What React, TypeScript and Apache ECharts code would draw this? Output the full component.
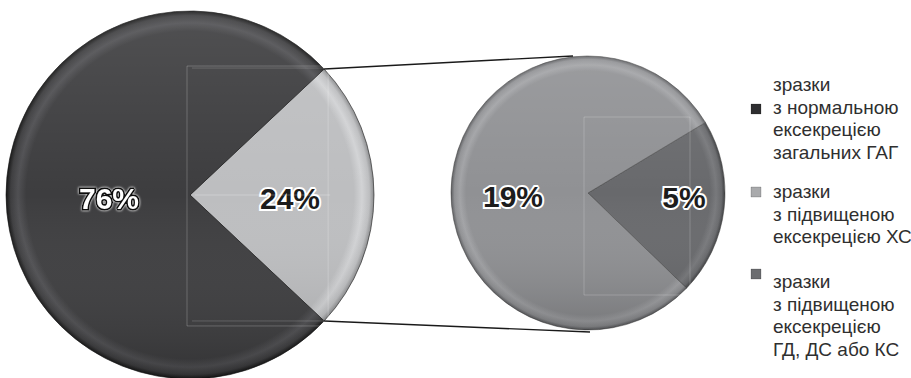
import { useEffect, useRef } from 'react';
import * as echarts from 'echarts';

// ---- data ----
const mainNames = ['зразки з нормальною ексекрецією загальних ГАГ', 'зразки з підвищеною ексекрецією'];
const mainValues = [76, 24];
const subNames = ['зразки з підвищеною ексекрецією ХС', 'зразки з підвищеною ексекрецією ГД, ДС або КС'];
const subValues = [19, 5];
const legendTexts = [
  'зразки\nз нормальною\nексекрецією\nзагальних ГАГ',
  'зразки\nз підвищеною\nексекрецією ХС',
  'зразки\nз підвищеною\nексекрецією\nГД, ДС або КС',
];

// ---- styles / layout ----
const BX = 190, BY = 195, BR = 184;
const SX = 588, SY = 193, SR = 137;
const SUB_START = 31;
const legendMarkerColors = ['#2e2e30', '#a9aaac', '#6c6d70'];
const legendMarkerY = [104, 187, 269];
const legendTextY = [73, 180, 270];

function rim(cx: number, cy: number, r: number, base: string, band: string, edge: string) {
  return new echarts.graphic.RadialGradient(cx, cy, r, [
    { offset: 0, color: base },
    { offset: 0.89, color: base },
    { offset: 0.935, color: band },
    { offset: 0.975, color: base },
    { offset: 1, color: edge },
  ], true);
}
function shade(cx: number, cy: number, r: number) {
  return new echarts.graphic.LinearGradient(cx, cy - r, cx, cy + r, [
    { offset: 0, color: 'rgba(255,255,255,0.10)' },
    { offset: 0.5, color: 'rgba(255,255,255,0)' },
    { offset: 1, color: 'rgba(0,0,0,0.18)' },
  ], true);
}

const darkLabel = {
  color: '#1c1c1c', textBorderColor: '#ffffff', textBorderWidth: 4,
};
const whiteLabel = {
  color: '#ffffff', textBorderColor: '#111111', textBorderWidth: 3.5,
  textShadowColor: '#ffffff', textShadowBlur: 2,
};

export default function App() {
  const ref = useRef<HTMLDivElement>(null);
  useEffect(() => {
    if (!ref.current) return;
    const chart = echarts.init(ref.current, null, { renderer: 'svg' });
    const mainTotal = mainValues[0] + mainValues[1];
    const bigStart = (360 * mainValues[1] / mainTotal) / 2;
    const a = bigStart * Math.PI / 180;
    const topPt = [BX + BR * Math.cos(a), BY - BR * Math.sin(a)];
    const botPt = [BX + BR * Math.cos(a), BY + BR * Math.sin(a)];

    const pct = (v: number) => `${v}%`;
    const baseLabel = {
      show: true, position: 'inside', fontSize: 30, fontWeight: 'bold',
      fontFamily: 'Liberation Sans, Arial, sans-serif',
    };

    const bigColors = [
      rim(BX, BY, BR, '#bdbec0', '#d2d3d5', '#8a8b8d'),
      rim(BX, BY, BR, '#3d3d3f', '#505053', '#161616'),
    ];
    const smallColors = [
      rim(SX, SY, SR, '#68696c', '#78797c', '#3e3f41'),
      rim(SX, SY, SR, '#909194', '#a2a3a6', '#5c5d60'),
    ];

    const bigData = [
      { name: mainNames[1], value: mainValues[1] },
      { name: mainNames[0], value: mainValues[0] },
    ];
    const smallData = [
      { name: subNames[1], value: subValues[1] },
      { name: subNames[0], value: subValues[0] },
    ];

    const common = {
      type: 'pie', silent: true, clockwise: true, avoidLabelOverlap: false,
      labelLine: { show: false }, emphasis: { disabled: true },
    };

    chart.setOption({
      animation: false,
      series: [
        {
          ...common, center: [BX, BY], radius: [0, BR], startAngle: bigStart, z: 1,
          label: { show: false },
          data: bigData.map((d, i) => ({ ...d, itemStyle: { color: bigColors[i], borderWidth: 1, borderColor: 'rgba(20,20,20,0.6)' } })),
        },
        {
          ...common, center: [BX, BY], radius: [0, BR], startAngle: bigStart, z: 2,
          itemStyle: { color: shade(BX, BY, BR), borderWidth: 0 },
          data: bigData.map((d, i) => ({
            ...d,
            label: { ...baseLabel, formatter: pct(d.value), offset: i === 0 ? [5, 3] : [14, 3], ...(i === 0 ? darkLabel : whiteLabel) },
          })),
        },
        {
          ...common, center: [SX, SY], radius: [0, SR], startAngle: SUB_START, z: 1,
          label: { show: false },
          data: smallData.map((d, i) => ({ ...d, itemStyle: { color: smallColors[i], borderWidth: 1, borderColor: 'rgba(60,60,60,0.5)' } })),
        },
        {
          ...common, center: [SX, SY], radius: [0, SR], startAngle: SUB_START, z: 2,
          itemStyle: { color: shade(SX, SY, SR), borderWidth: 0 },
          data: smallData.map((d, i) => ({
            ...d,
            label: { ...baseLabel, formatter: pct(d.value), offset: i === 0 ? [25, -4] : [-4, 12], ...darkLabel },
          })),
        },
      ],
      graphic: [
        { type: 'line', z: 10, shape: { x1: topPt[0], y1: topPt[1], x2: SX - 15, y2: SY - SR }, style: { stroke: '#1a1a1a', lineWidth: 1.4 } },
        { type: 'line', z: 10, shape: { x1: botPt[0], y1: botPt[1], x2: SX + 2, y2: SY + SR + 2 }, style: { stroke: '#1a1a1a', lineWidth: 1.4 } },
        // faint artifact frames
        { type: 'rect', z: 9, shape: { x: BX - 3, y: topPt[1] - 3, width: topPt[0] - BX + 7, height: botPt[1] - topPt[1] + 8 }, style: { fill: 'none', stroke: 'rgba(255,255,255,0.22)', lineWidth: 1 } },
        { type: 'line', z: 9, shape: { x1: BX + 2, y1: topPt[1] - 1, x2: topPt[0], y2: topPt[1] - 1 }, style: { stroke: 'rgba(255,255,255,0.18)', lineWidth: 1 } },
        { type: 'line', z: 9, shape: { x1: BX + 2, y1: botPt[1], x2: botPt[0], y2: botPt[1] }, style: { stroke: 'rgba(255,255,255,0.18)', lineWidth: 1 } },
        { type: 'line', z: 9, shape: { x1: BX + 5, y1: BY, x2: topPt[0] + 6, y2: BY }, style: { stroke: 'rgba(255,255,255,0.25)', lineWidth: 1 } },
        { type: 'rect', z: 9, shape: { x: SX - 4, y: SY - 76, width: 106, height: 178 }, style: { fill: 'none', stroke: 'rgba(255,255,255,0.2)', lineWidth: 1 } },
        // legend
        ...legendTexts.flatMap((t, i) => [
          {
            type: 'rect', z: 10, shape: { x: 751, y: legendMarkerY[i], width: 10, height: 10 },
            style: { fill: legendMarkerColors[i], stroke: 'rgba(0,0,0,0.35)', lineWidth: 0.5 },
          },
          {
            type: 'text', z: 10, x: 773, y: legendTextY[i],
            style: {
              text: t, fill: '#2f2f2f', fontSize: 19, lineHeight: 22.7,
              fontFamily: 'Liberation Sans, Arial, sans-serif', verticalAlign: 'top', align: 'left',
            },
          },
        ]),
      ],
    });
    return () => chart.dispose();
  }, []);
  return <div ref={ref} style={{ position: 'absolute', left: 0, top: 0, width: 911, height: 378 }} />;
}
